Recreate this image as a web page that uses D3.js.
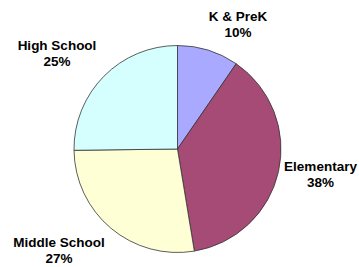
<!DOCTYPE html>
<html><head><meta charset="utf-8">
<script src="https://cdn.jsdelivr.net/npm/d3@7"></script>
<style>html,body{margin:0;padding:0;background:#fff}svg{display:block}</style>
</head><body>
<script>
const categories = ["K & PreK", "Elementary", "Middle School", "High School"];
const values = [9.6, 37.8, 27.4, 25.2];
const pctLabels = ["10%", "38%", "27%", "25%"];
const colors = ["#A9A9FF", "#A64A76", "#FFFFD5", "#D5FFFF"];

const W = 359, H = 267;
const cx = 177.5, cy = 149, R = 103.5;
// label anchor positions (layout), relative to pie center
const labelPos = [[60.5, -128], [143, 22], [-118.5, 98], [-120.5, -99]];

const svg = d3.select("body").append("svg").attr("width", W).attr("height", H);
const g = svg.append("g").attr("transform", `translate(${cx},${cy})`);
const pie = d3.pie().sort(null).value(d => d.v);
const arc = d3.arc().innerRadius(0).outerRadius(R);
const data = categories.map((c, i) => ({c, v: values[i], p: pctLabels[i], col: colors[i], i}));

g.selectAll("path").data(pie(data)).join("path")
  .attr("d", arc)
  .attr("fill", d => d.data.col)
  .attr("stroke", "#333")
  .attr("stroke-width", 0.8)
  .attr("stroke-linejoin", "round");

const lab = g.selectAll("text").data(data).join("text")
  .attr("text-anchor", "middle")
  .attr("font-family", "Liberation Sans, Arial, sans-serif")
  .attr("font-weight", "bold")
  .attr("font-size", "13.5px")
  .attr("fill", "#000")
  .attr("transform", d => `translate(${labelPos[d.i][0]},${labelPos[d.i][1]})`);
lab.append("tspan").attr("x", 0).attr("y", 0).text(d => d.c);
lab.append("tspan").attr("x", 0).attr("y", 16).text(d => d.p);
</script>
</body></html>
